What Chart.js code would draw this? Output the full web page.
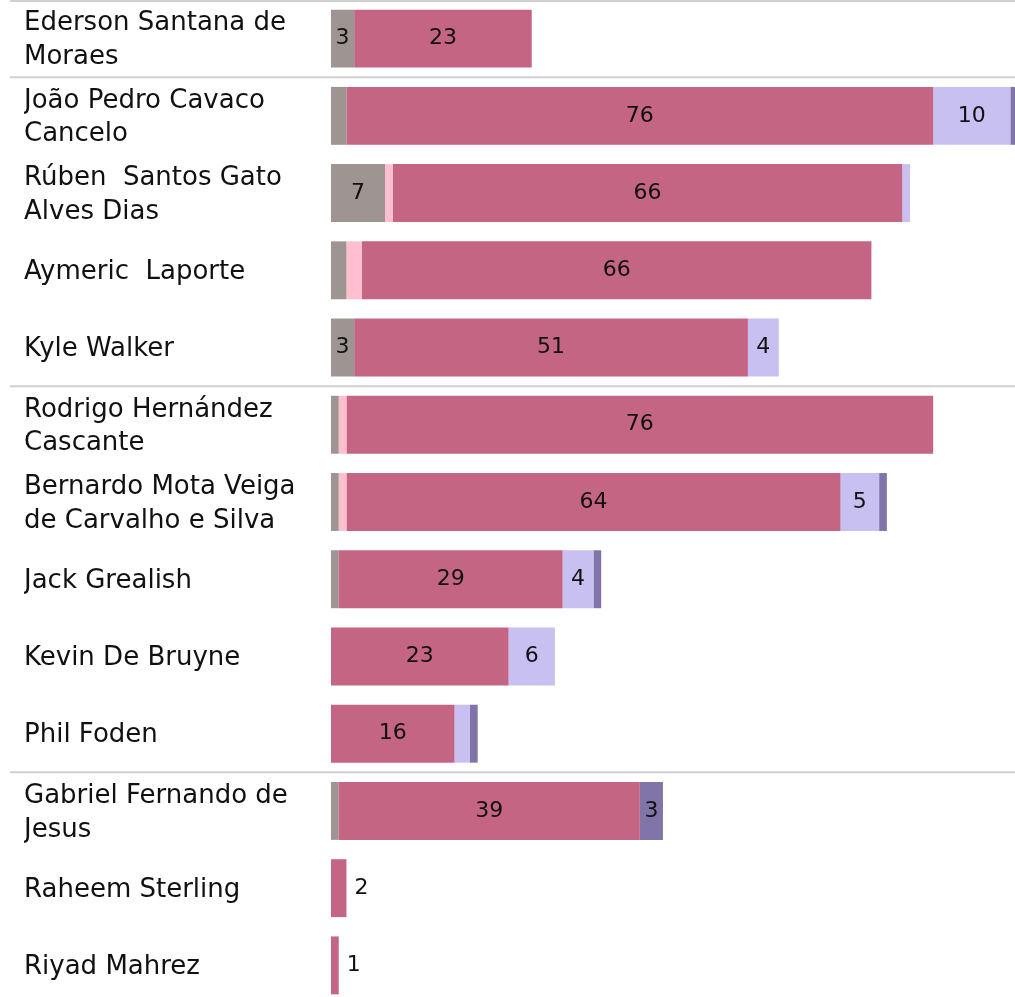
<!DOCTYPE html>
<html>
<head>
<meta charset="utf-8">
<script src="https://cdn.jsdelivr.net/npm/chart.js@4/dist/chart.umd.min.js"></script>
<style>
html,body{margin:0;padding:0;overflow:hidden;background:#fff;}
#wrap{position:relative;width:1015px;height:1004px;}
</style>
</head>
<body>
<div id="wrap"><canvas id="c"></canvas></div>
<script>
const players = ["Ederson Santana de Moraes","João Pedro Cavaco Cancelo","Rúben  Santos Gato Alves Dias","Aymeric  Laporte","Kyle Walker","Rodrigo Hernández Cascante","Bernardo Mota Veiga de Carvalho e Silva","Jack Grealish","Kevin De Bruyne","Phil Foden","Gabriel Fernando de Jesus","Raheem Sterling","Riyad Mahrez"];
const tickLines = [["Ederson Santana de","Moraes"],["João Pedro Cavaco","Cancelo"],["Rúben  Santos Gato","Alves Dias"],["Aymeric  Laporte"],["Kyle Walker"],["Rodrigo Hernández","Cascante"],["Bernardo Mota Veiga","de Carvalho e Silva"],["Jack Grealish"],["Kevin De Bruyne"],["Phil Foden"],["Gabriel Fernando de","Jesus"],["Raheem Sterling"],["Riyad Mahrez"]];
const seriesGray     = [3, 2, 7, 2, 3, 1, 1, 1, 0, 0, 1, 0, 0];
const seriesLightPink= [0, 0, 1, 2, 0, 1, 1, 0, 0, 0, 0, 0, 0];
const seriesPink     = [23,76,66,66,51,76,64,29,23,16,39,2, 1];
const seriesLavender = [0,10, 1, 0, 4, 0, 5, 4, 6, 2, 0, 0, 0];
const seriesPurple   = [0, 1, 0, 0, 0, 0, 1, 1, 0, 1, 3, 0, 0];
const groupStarts = [0, 1, 5, 10];
const xMax = 88.6;

const colors = ['#9e9592','#ffbfd0','#c46584','#c8c0f0','#8074a8'];
const allSeries = [seriesGray, seriesLightPink, seriesPink, seriesLavender, seriesPurple];

const valueLabels = {
  id: 'valueLabels',
  afterDatasetsDraw(chart) {
    const ctx = chart.ctx;
    ctx.save();
    ctx.font = '22px "DejaVu Sans"';
    ctx.fillStyle = '#111';
    ctx.textBaseline = 'middle';
    chart.data.datasets.forEach((ds, di) => {
      const meta = chart.getDatasetMeta(di);
      meta.data.forEach((bar, i) => {
        const v = ds.data[i];
        if (!v) return;
        const w = Math.abs(bar.x - bar.base);
        const nonzero = chart.data.datasets.filter(d => d.data[i]).length;
        if (w >= 20) {
          ctx.textAlign = 'center';
          ctx.fillText(String(v), (bar.x + bar.base) / 2, bar.y);
        } else if (nonzero === 1) {
          ctx.textAlign = 'left';
          ctx.fillText(String(v), bar.x + 8, bar.y);
        }
      });
    });
    ctx.restore();
  }
};

const separators = {
  id: 'separators',
  afterDraw(chart) {
    const y = chart.scales.y;
    const ctx = chart.ctx;
    const step = y.getPixelForValue(1) - y.getPixelForValue(0);
    ctx.save();
    ctx.strokeStyle = '#d0d0d0';
    ctx.lineWidth = 2;
    groupStarts.forEach(g => {
      let py = y.getPixelForValue(g) - step / 2;
      py = Math.max(py, 1);
      ctx.beginPath();
      ctx.moveTo(10, py);
      ctx.lineTo(1015, py);
      ctx.stroke();
    });
    ctx.restore();
  }
};

new Chart(document.getElementById('c'), {
  type: 'bar',
  data: {
    labels: players,
    datasets: allSeries.map((s, k) => ({
      data: s,
      backgroundColor: colors[k],
      borderWidth: 0,
      barPercentage: 1,
      categoryPercentage: 0.75
    }))
  },
  options: {
    indexAxis: 'y',
    responsive: true,
    maintainAspectRatio: false,
    animation: false,
    layout: { padding: { left: 24, right: 0, top: 0, bottom: 0 } },
    plugins: { legend: { display: false }, tooltip: { enabled: false } },
    scales: {
      x: { stacked: true, display: false, min: 0, max: xMax },
      y: {
        stacked: true,
        grid: { display: false },
        border: { display: false },
        afterFit(scale) { scale.width = 307; scale.paddingTop = 0; scale.paddingBottom = 0; },
        ticks: {
          crossAlign: 'far',
          padding: 0,
          labelOffset: 2,
          color: '#111',
          font: { family: '"DejaVu Sans"', size: 26, lineHeight: 1.3 },
          callback: (val, idx) => tickLines[idx]
        }
      }
    }
  },
  plugins: [valueLabels, separators]
});
</script>
</body>
</html>
